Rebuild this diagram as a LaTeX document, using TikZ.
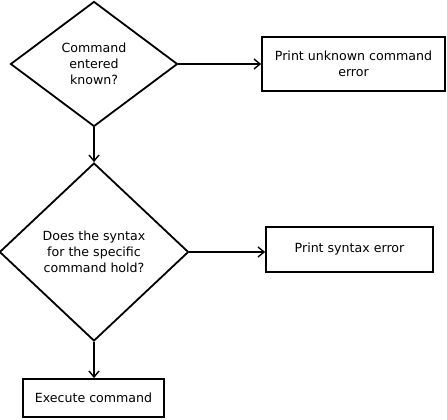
\documentclass[tikz,border=0pt]{standalone}
\usepackage{fontspec}
\setmainfont{DejaVu Sans}
\usetikzlibrary{shapes.geometric,arrows.meta}
\begin{document}
\begin{tikzpicture}[x=1pt,y=-1pt,
  every node/.style={font=\fontsize{12.6}{16}\selectfont, align=center},
  dec/.style={draw, line width=1.8pt, shape=diamond, inner sep=0pt},
  boxnode/.style={draw, line width=1.8pt, rectangle, inner sep=0pt},
  conn/.style={line width=1.8pt, -{Straight Barb[length=6pt,width=10pt,line width=1.4pt]}}]
\useasboundingbox (0,0) rectangle (447,420);
\node[dec, minimum width=167pt, minimum height=125pt] (d1) at (94,64) {Command\\entered\\known?};
\node[dec, minimum width=189pt, minimum height=178pt] (d2) at (94,252) {Does the syntax\\for the specific\\command hold?};
\node[boxnode, minimum width=183pt, minimum height=54pt] (b1) at (353.5,64) {Print unknown command\\error};
\node[boxnode, minimum width=167pt, minimum height=45pt] (b2) at (349.5,249.5) {Print syntax error};
\node[boxnode, minimum width=141pt, minimum height=38pt] (b3) at (93.5,398) {Execute command};
\draw[conn] (d1.south) -- (d2.north);
\draw[conn] (d1.east) -- (b1.west);
\draw[conn] (d2.east) -- (d2.east -| b2.west);
\draw[conn] (d2.south) -- (d2.south |- b3.north);
\end{tikzpicture}
\end{document}
